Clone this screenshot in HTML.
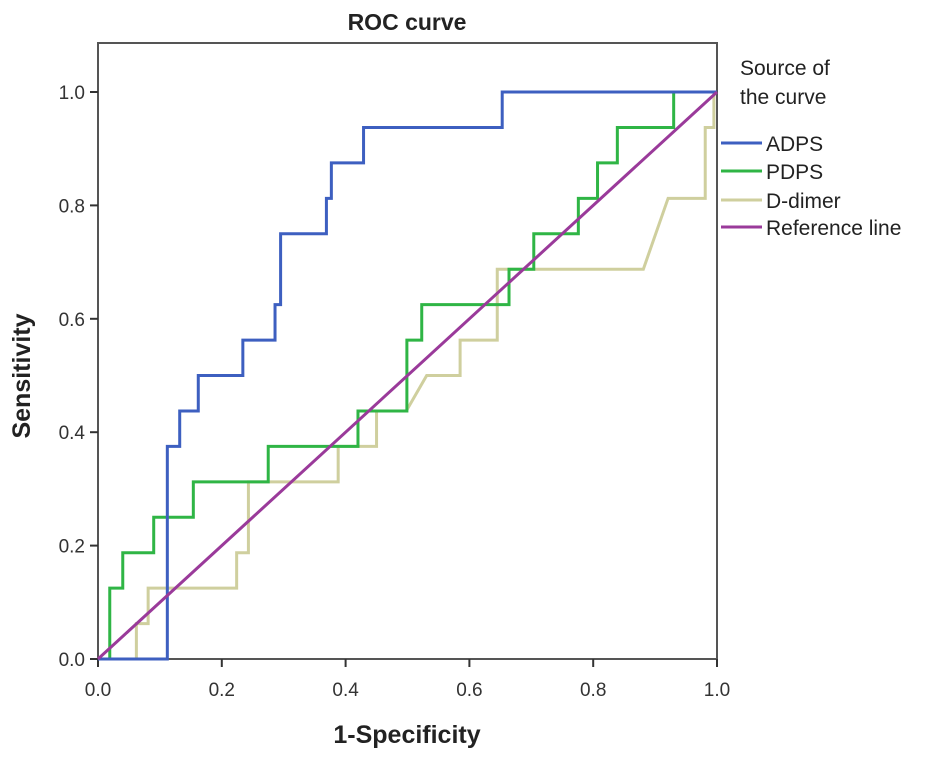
<!DOCTYPE html>
<html><head><meta charset="utf-8"><style>
body{margin:0;background:#fff;}
svg{display:block;font-family:"Liberation Sans",Arial,sans-serif;}
</style></head><body>
<svg id="chart" width="945" height="762" viewBox="0 0 945 762">
<text x="407" y="30" font-size="23" font-weight="bold" text-anchor="middle" fill="#222">ROC curve</text>
<rect x="98" y="43" width="619" height="616" fill="none" stroke="#555" stroke-width="2"/>
<g id="xt"></g>
<g id="yt"></g>
<text x="407" y="743" font-size="25" font-weight="bold" text-anchor="middle" fill="#222">1-Specificity</text>
<text transform="translate(30,376) rotate(-90)" font-size="25" font-weight="bold" text-anchor="middle" fill="#222">Sensitivity</text>
<g id="series"></g>
<g font-size="21" fill="#222">
<text x="740" y="75">Source of</text>
<text x="740" y="104">the curve</text>
<g id="leg"></g>
</g>
</svg>
<script>
const ticks=[0,0.2,0.4,0.6,0.8,1.0];
const tickLabels=["0.0","0.2","0.4","0.6","0.8","1.0"];
const seriesNames=["ADPS","PDPS","D-dimer","Reference line"];
const adpsX=[0,0.112,0.112,0.132,0.132,0.162,0.162,0.234,0.234,0.286,0.286,0.295,0.295,0.369,0.369,0.377,0.377,0.429,0.429,0.653,0.653,1.0];
const adpsY=[0,0,0.375,0.375,0.4375,0.4375,0.5,0.5,0.5625,0.5625,0.625,0.625,0.75,0.75,0.8125,0.8125,0.875,0.875,0.9375,0.9375,1.0,1.0];
const pdpsX=[0,0.019,0.019,0.040,0.040,0.090,0.090,0.154,0.154,0.275,0.275,0.420,0.420,0.499,0.499,0.523,0.523,0.664,0.664,0.704,0.704,0.776,0.776,0.807,0.807,0.839,0.839,0.930,0.930,1.0];
const pdpsY=[0,0,0.125,0.125,0.1875,0.1875,0.25,0.25,0.3125,0.3125,0.375,0.375,0.4375,0.4375,0.5625,0.5625,0.625,0.625,0.6875,0.6875,0.75,0.75,0.8125,0.8125,0.875,0.875,0.9375,0.9375,1.0,1.0];
const ddX=[0,0.062,0.062,0.081,0.081,0.224,0.224,0.243,0.243,0.388,0.388,0.45,0.45,0.498,0.531,0.585,0.585,0.645,0.645,0.881,0.921,0.981,0.981,0.995,0.995,1.0];
const ddY=[0,0,0.0625,0.0625,0.125,0.125,0.1875,0.1875,0.3125,0.3125,0.375,0.375,0.4375,0.4375,0.5,0.5,0.5625,0.5625,0.6875,0.6875,0.8125,0.8125,0.9375,0.9375,1.0,1.0];
const refX=[0,1];
const refY=[0,1];
const colors=["#3d5fc0","#2fb545","#cfcf9e","#9a3a9a"];
const NS="http://www.w3.org/2000/svg";
const X0=98,X1=717,Y0=659,Y1=92;
function sx(v){return X0+v*(X1-X0);}
function sy(v){return Y0-v*(Y0-Y1);}
const xt=document.getElementById('xt'),yt=document.getElementById('yt');
ticks.forEach((t,i)=>{
 let l=document.createElementNS(NS,'line');
 l.setAttribute('x1',sx(t));l.setAttribute('x2',sx(t));l.setAttribute('y1',Y0);l.setAttribute('y2',Y0+8);
 l.setAttribute('stroke','#333');l.setAttribute('stroke-width','2');
 
 
 xt.appendChild(l);
 let tx=document.createElementNS(NS,'text');
 tx.setAttribute('x',sx(t));tx.setAttribute('y',696);tx.setAttribute('font-size','19');tx.setAttribute('text-anchor','middle');tx.setAttribute('fill','#333');
 tx.textContent=tickLabels[i];
 
 
 xt.appendChild(tx);
 let m=document.createElementNS(NS,'line');
 m.setAttribute('x1',X0-8);m.setAttribute('x2',X0);m.setAttribute('y1',sy(t));m.setAttribute('y2',sy(t));
 m.setAttribute('stroke','#333');m.setAttribute('stroke-width','2');
 
 
 yt.appendChild(m);
 let ty=document.createElementNS(NS,'text');
 ty.setAttribute('x',85);ty.setAttribute('y',sy(t)+7);ty.setAttribute('font-size','19');ty.setAttribute('text-anchor','end');ty.setAttribute('fill','#333');
 ty.textContent=tickLabels[i];
 
 
 yt.appendChild(ty);
});
const sg=document.getElementById('series');
const all=[[adpsX,adpsY],[pdpsX,pdpsY],[ddX,ddY],[refX,refY]];
const order=[2,1,0,3];
order.forEach(k=>{
 const [xs,ys]=all[k];
 let p=document.createElementNS(NS,'polyline');
 p.setAttribute('points',xs.map((x,i)=>sx(x)+','+sy(ys[i])).join(' '));
 p.setAttribute('fill','none');p.setAttribute('stroke',colors[k]);p.setAttribute('stroke-width','3');
 
 
 sg.appendChild(p);
});
const lg=document.getElementById('leg');
const legY=[143,171,200,227];
seriesNames.forEach((n,i)=>{
 let l=document.createElementNS(NS,'line');
 l.setAttribute('x1',721);l.setAttribute('x2',762);l.setAttribute('y1',legY[i]);l.setAttribute('y2',legY[i]);
 l.setAttribute('stroke',colors[i]);l.setAttribute('stroke-width','3');
 
 
 lg.appendChild(l);
 let t=document.createElementNS(NS,'text');
 t.setAttribute('x',766);t.setAttribute('y',legY[i]+8);
 t.textContent=n;
 
 
 lg.appendChild(t);
});
</script>
</body></html>
